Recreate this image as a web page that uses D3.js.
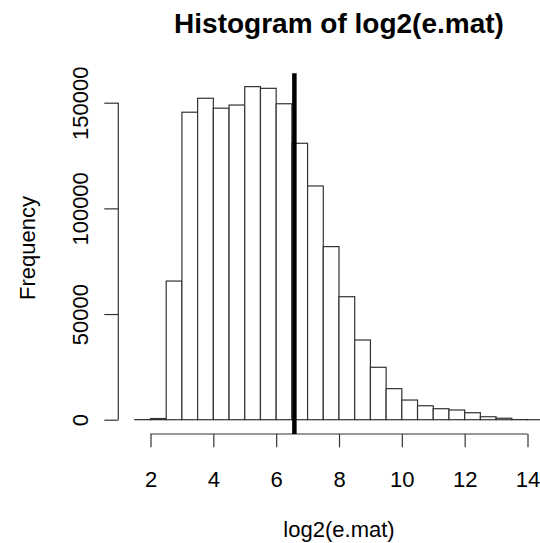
<!DOCTYPE html>
<html>
<head>
<meta charset="utf-8">
<script src="https://cdn.jsdelivr.net/npm/d3@7"></script>
<style>
  body { margin: 0; background: #fff; }
  svg { display: block; }
  text { font-family: "Liberation Sans", Arial, Helvetica, sans-serif; fill: #000; }
</style>
</head>
<body>
<svg id="chart" width="540" height="543"></svg>
<script>
// Histogram bins of log2(e.mat): break points (width 0.5) and counts per bin
const breaks = [1.5, 2, 2.5, 3, 3.5, 4, 4.5, 5, 5.5, 6, 6.5, 7, 7.5, 8, 8.5,
                9, 9.5, 10, 10.5, 11, 11.5, 12, 12.5, 13, 13.5, 14, 14.5];
const counts = [30, 550, 65600, 145500, 152100, 147400, 148900, 157600, 156800,
                149500, 130800, 110600, 81900, 58200, 37700, 24800, 14700, 9300,
                6600, 5200, 4600, 3300, 1400, 700, 60, 10];

const xTicks = [2, 4, 6, 8, 10, 12, 14];
const yTicks = [0, 50000, 100000, 150000];
const yTickLabels = ["0", "50000", "100000", "150000"];

// median of log2(e.mat), marked with a thick vertical line
const medianValue = 6.58;

const titleText = "Histogram of log2(e.mat)";
const xLabel = "log2(e.mat)";
const yLabel = "Frequency";

const svg = d3.select("#chart");

const x = d3.scaleLinear().domain([2, 14]).range([150.5, 527.5]);
const y = d3.scaleLinear().domain([0, 150000]).range([419.7, 102.7]);

// plot region (extends 4% beyond the data range)
const plotTop = 73.3, plotBottom = 434;
const plotCenterX = 339;
const lineColor = "#333";

const bins = counts.map((c, i) => ({ x0: breaks[i], x1: breaks[i + 1], n: c }));

// bars
svg.append("g")
  .selectAll("rect")
  .data(bins)
  .join("rect")
  .attr("x", d => x(d.x0))
  .attr("y", d => y(d.n))
  .attr("width", d => x(d.x1) - x(d.x0))
  .attr("height", d => y(0) - y(d.n))
  .attr("fill", "#fff")
  .attr("stroke", lineColor)
  .attr("stroke-width", 1.2);

// x axis
const xAxis = d3.axisBottom(x)
  .tickValues(xTicks)
  .tickFormat(d3.format("d"))
  .tickSize(13.3)
  .tickPadding(24)
  .tickSizeOuter(0);
const gx = svg.append("g")
  .attr("transform", `translate(0,${plotBottom})`)
  .call(xAxis);
gx.select(".domain").attr("stroke", lineColor).attr("stroke-width", 1.2)
  .attr("d", `M${x(xTicks[0])},0H${x(xTicks[xTicks.length - 1])}`);
gx.selectAll(".tick line").attr("stroke", lineColor).attr("stroke-width", 1.2);
gx.selectAll(".tick text")
  .style("font-family", "'Liberation Sans', Arial, sans-serif")
  .style("font-size", "22px")
  .attr("fill", "#111");

// y axis
const yAxis = d3.axisLeft(y)
  .tickValues(yTicks)
  .tickFormat((d, i) => yTickLabels[i])
  .tickSize(14)
  .tickSizeOuter(0);
const gy = svg.append("g")
  .attr("transform", "translate(118.3,0)")
  .call(yAxis);
gy.select(".domain").attr("stroke", lineColor).attr("stroke-width", 1.2)
  .attr("d", `M0,${y(yTicks[0])}V${y(yTicks[yTicks.length - 1])}`);
gy.selectAll(".tick line").attr("stroke", lineColor).attr("stroke-width", 1.2);
gy.selectAll(".tick text")
  .attr("x", null).attr("dy", null)
  .attr("text-anchor", "middle")
  .attr("transform", "translate(-30,0) rotate(-90)")
  .style("font-family", "'Liberation Sans', Arial, sans-serif")
  .style("font-size", "22px")
  .attr("fill", "#111");

// median line
svg.append("line")
  .attr("x1", x(medianValue)).attr("x2", x(medianValue))
  .attr("y1", plotTop).attr("y2", plotBottom)
  .attr("stroke", "#000")
  .attr("stroke-width", 4.5);

// title and axis labels
svg.append("text")
  .attr("x", plotCenterX).attr("y", 33)
  .attr("text-anchor", "middle")
  .style("font-size", "28px")
  .style("font-weight", "bold")
  .text(titleText);

svg.append("text")
  .attr("x", plotCenterX).attr("y", 537)
  .attr("text-anchor", "middle")
  .style("font-size", "22px")
  .attr("fill", "#111")
  .text(xLabel);

svg.append("text")
  .attr("transform", `translate(35,248) rotate(-90)`)
  .attr("text-anchor", "middle")
  .style("font-size", "22px")
  .attr("fill", "#111")
  .text(yLabel);
</script>
</body>
</html>
